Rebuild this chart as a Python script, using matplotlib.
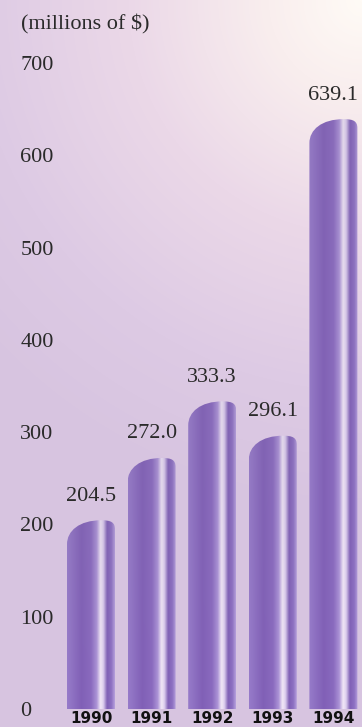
import numpy as np
import matplotlib
matplotlib.use("Agg")
import matplotlib.pyplot as plt
from matplotlib.path import Path
from matplotlib.patches import PathPatch
from matplotlib.colors import LinearSegmentedColormap, to_rgb

# Data
years = ["1990", "1991", "1992", "1993", "1994"]
values = [204.5, 272.0, 333.3, 296.1, 639.1]
value_labels = ["204.5", "272.0", "333.3", "296.1", "639.1"]
y_ticks = [0, 100, 200, 300, 400, 500, 600, 700]
unit_label = "(millions of $)"

W, H = 362, 727
DPI = 100
fig = plt.figure(figsize=(W / DPI, H / DPI), dpi=DPI)

# Background: lavender fading to near-white toward the upper right corner
bg = fig.add_axes([0, 0, 1, 1], zorder=-10)
bg.set_axis_off()
yy, xx = np.mgrid[0:H, 0:W]
dist = np.hypot((W - xx) * 1.0, yy * 1.0)
t = np.clip(dist / 520.0, 0, 1)
bg_cmap = LinearSegmentedColormap.from_list(
    "bg", [(0.0, "#fffbf6"), (0.18, "#f9eeee"), (0.45, "#ebd8e8"),
           (0.75, "#ddcae4"), (1.0, "#d7c4e0")])
bg.imshow(bg_cmap(t), extent=(0, W, 0, H), origin="upper", aspect="auto")
bg.set_xlim(0, W)
bg.set_ylim(0, H)

# Main axes, scaled so 100 units ~ 92 px
ax_left, ax_right = 60, 362
ax_bottom_px = 709          # pixel row of the zero line
px_per_unit_y = 0.923
px_per_unit_x = 60.6
ax = fig.add_axes([ax_left / W, (H - ax_bottom_px) / H,
                   (ax_right - ax_left) / W, ax_bottom_px / H])
ax.patch.set_alpha(0)
xmin = -(91 - ax_left) / px_per_unit_x
xmax = xmin + (ax_right - ax_left) / px_per_unit_x
for s in ax.spines.values():
    s.set_visible(False)

serif = ["Liberation Serif", "DejaVu Serif"]
ax.set_yticks(y_ticks)
ax.set_yticklabels([str(v) for v in y_ticks], fontsize=16, family=serif,
                   color="#2a2a2a")
ax.tick_params(axis="y", length=0, pad=28.5)
for lbl in ax.get_yticklabels():
    lbl.set_horizontalalignment("left")

ax.set_xticks(range(len(years)))
ax.set_xticklabels(years, fontsize=11, fontweight="bold",
                   family=["Liberation Sans Narrow", "DejaVu Sans"],
                   color="#111111")
ax.tick_params(axis="x", length=0, pad=1.5)

# Bar shading: horizontal profile with a bright highlight stripe
stops = [(0.00, "#9479c6"), (0.30, "#7e5eb3"), (0.50, "#8768bb"),
         (0.62, "#a890d2"), (0.70, "#eee4f2"), (0.76, "#d9cbea"),
         (0.84, "#7d5eb2"), (0.93, "#8b6fbf"), (1.00, "#b39dd8")]
bar_cmap = LinearSegmentedColormap.from_list("bar", stops)
nx, ny = 200, 300
prof = bar_cmap(np.linspace(0, 1, nx))[:, :3]
vert = np.linspace(0, 1, ny)[:, None, None]      # 0 at top, 1 at bottom
img = prof[None, :, :] * (1 - 0.10 * (1 - vert)) + 0.10 * (1 - vert) * np.array(to_rgb("#b7a2da"))
img = np.clip(img * (0.98 + 0.04 * vert), 0, 1)

bar_w = 48 / px_per_unit_x
left_drop = 24 / px_per_unit_y
right_drop = 9 / px_per_unit_y
label_gap = 24 / px_per_unit_y

for i, v in enumerate(values):
    x0 = i - bar_w / 2
    x1 = i + bar_w / 2
    xp = x0 + 0.72 * bar_w
    verts = [
        (x0, 0),
        (x0, v - left_drop),
        (x0, v - left_drop * 0.45), (x0 + 0.25 * bar_w, v), (xp, v),
        (x0 + 0.92 * bar_w, v), (x1, v - right_drop * 0.25), (x1, v - right_drop),
        (x1, 0),
        (x0, 0),
    ]
    codes = [Path.MOVETO, Path.LINETO,
             Path.CURVE4, Path.CURVE4, Path.CURVE4,
             Path.CURVE4, Path.CURVE4, Path.CURVE4,
             Path.LINETO, Path.CLOSEPOLY]
    patch = PathPatch(Path(verts, codes), facecolor="none", edgecolor="none")
    ax.add_patch(patch)
    im = ax.imshow(img, extent=(x0, x1, 0, v), origin="upper",
                   aspect="auto", interpolation="bilinear", zorder=2)
    im.set_clip_path(patch)
    ax.text(i, v + label_gap, value_labels[i], ha="center", va="center",
            fontsize=16, family=serif, color="#2a2a2a")

ax.set_xlim(xmin, xmax)
ax.set_ylim(0, ax_bottom_px / px_per_unit_y)

fig.text(21 / W, 1 - 24 / H, unit_label, ha="left", va="center",
         fontsize=16, family=serif, color="#2a2a2a")

fig.savefig("out.png", dpi=DPI)
